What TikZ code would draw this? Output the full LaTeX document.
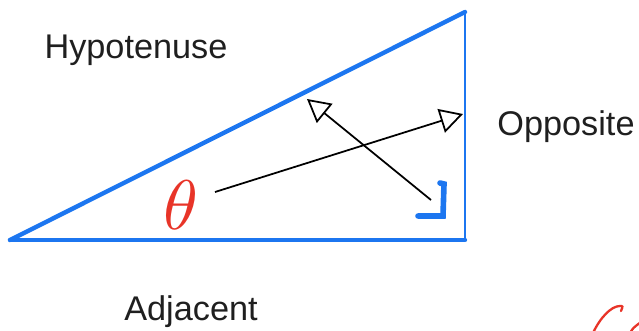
\documentclass[tikz,border=0pt]{standalone}
\usepackage{fontspec}
\setmainfont{Liberation Sans}
\usepackage{xcolor}
\usepackage{tikz}
\usetikzlibrary{arrows.meta}
\definecolor{sideblue}{RGB}{28,118,240}
\definecolor{inkred}{RGB}{232,52,40}

\begin{document}
\begin{tikzpicture}[x=0.02cm, y=-0.02cm,
    side/.style={sideblue, line width=2.5pt, line cap=round},
    sidelabel/.style={font=\fontsize{19.5}{23}\selectfont, text=black!88},
    pen/.style={black, line width=1pt, -{Triangle[open, length=13pt, width=14pt]}}]
				\useasboundingbox (0,0) rectangle (639,331);
				% Triangle and labels:
				\coordinate (A) at (10,240);
				\coordinate (B) at (465,240);
				\coordinate (C) at (465,12);
				\draw[side] (A) -- (C);
				\draw[side] (A) -- (B);
				\draw[sideblue, line width=1.6pt] (B) -- (C);
				\draw[sideblue, line width=3.2pt, line cap=round] (418,216) -- (443,216) -- (444,184) -- (440,183);
				\node[sidelabel] (hyp) at (136,50) {Hypotenuse};
				\node[sidelabel] (opp) at (566,127) {Opposite};
				\node[sidelabel] (adj) at (191,312) {Adjacent};
				\node[text=inkred, scale=4] (theta) at (181,205) {$\theta$};
				% Pen strokes:
				\coordinate (s1) at (215,192);
				\coordinate (e1) at (463,114);
				\coordinate (s2) at (431,200);
				\coordinate (e2) at (307,99);
				\draw[pen] (s1) -- (e1);
				\draw[pen] (s2) -- (e2);
				\draw[inkred, line width=1.3pt, line cap=round] (593,333) .. controls (600,318) and (611,306) .. (620,306) .. controls (623,306) .. (621,311);
				\draw[inkred, line width=1.3pt, line cap=round] (630,333) .. controls (633,328) .. (641,322);
			\end{tikzpicture}
\end{document}
